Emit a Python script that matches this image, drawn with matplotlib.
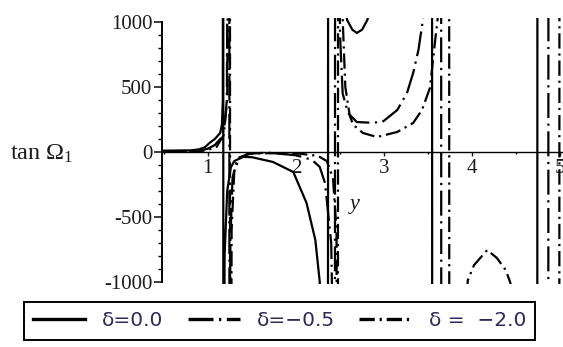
import matplotlib
matplotlib.use("Agg")
import matplotlib.pyplot as plt
from matplotlib.ticker import MultipleLocator, FixedLocator

plt.rcParams['font.family'] = ['Liberation Serif', 'DejaVu Serif']
plt.rcParams['mathtext.fontset'] = 'custom'
plt.rcParams['mathtext.rm'] = 'Liberation Serif'
plt.rcParams['mathtext.it'] = 'Liberation Serif:italic'
plt.rcParams['lines.scale_dashes'] = False

# values; +-5000 stands for "off the chart" near a pole
y_d0 = [0.48, 0.8, 0.9, 0.97, 1.02, 1.08, 1.14, 1.16, 1.17, 1.175,
        1.176, 1.19, 1.22, 1.26, 1.3, 1.4, 1.5, 1.74, 1.97, 2.12, 2.22, 2.27, 2.33, 2.362,
        2.366, 2.5, 2.58, 2.64, 2.69, 2.75, 2.81, 3.0, 3.4, 3.543,
        3.547, 4.2, 4.737,
        4.741, 5.03]
t_d0 = [10, 12, 20, 38, 70, 100, 146, 210, 400, 5000,
        -5000, -800, -300, -120, -70, -38, -40, -77, -154, -392, -677, -1000, -3000, -5000,
        5000, 1500, 1015, 940, 915, 940, 1015, 1500, 3000, 5000,
        -5000, -3000, -5000,
        5000, 3000]

y_d05 = [0.48, 0.9, 1.0, 1.08, 1.16, 1.19, 1.216, 1.243,
         1.246, 1.255, 1.28, 1.33, 1.45, 1.67, 2.0, 2.18, 2.27, 2.33, 2.4, 2.42, 2.441,
         2.445, 2.5, 2.53, 2.59, 2.69, 2.85, 2.98, 3.15, 3.26, 3.33, 3.39, 3.44, 3.55, 3.646,
         3.65, 4.3, 4.862,
         4.866, 5.03]
t_d05 = [5, 10, 25, 54, 115, 208, 400, 5000,
         -5000, -700, -200, -60, -15, -5, -25, -60, -115, -240, -700, -1500, -5000,
         5000, 900, 450, 300, 230, 225, 230, 323, 454, 608, 785, 1015, 2000, 5000,
         -5000, -3000, -5000,
         5000, 3000]

y_d2 = [0.48, 0.9, 1.0, 1.1, 1.18, 1.22, 1.25,
        1.254, 1.27, 1.3, 1.36, 1.5, 2.0, 2.25, 2.35, 2.42, 2.46, 2.475,
        2.479, 2.52, 2.56, 2.61, 2.65, 2.76, 2.92, 3.15, 3.33, 3.43, 3.52, 3.57, 3.62, 3.737,
        3.741, 3.9, 3.95, 4.02, 4.17, 4.28, 4.38, 4.43, 4.6, 4.987,
        4.991, 5.03]
t_d2 = [3, 5, 15, 40, 130, 400, 5000,
        -5000, -600, -150, -40, -10, -10, -30, -70, -200, -600, -5000,
        5000, 1200, 500, 280, 208, 146, 115, 154, 223, 323, 492, 800, 1100, 5000,
        -5000, -1500, -985, -870, -754, -815, -908, -1000, -1500, -5000,
        5000, 4000]

labels = [u'\u03b4=0.0', u'\u03b4=\u22120.5', u'\u03b4 =  \u22122.0']
yticks = [-1000, -500, 0, 500, 1000]
ytick_labels = ['-1000', '-500', '0', '500', '1000']
xticks = [1, 2, 3, 4, 5]

fig = plt.figure(figsize=(5.63, 3.47), dpi=100)
ax = fig.add_axes([162 / 563, 1 - 284 / 347, 401 / 563, 266 / 347])

lw = 1.6
l1, = ax.plot(y_d0, t_d0, color='black', lw=lw)
l2, = ax.plot(y_d05, t_d05, color='black', lw=lw, dashes=(18, 4, 1.6, 4))
l3, = ax.plot(y_d2, t_d2, color='black', lw=lw, dashes=(11, 3.5, 1.6, 3.5))

ax.set_xlim(0.48, 5.03)
ax.set_ylim(-1015, 1030)

for s in ['top', 'right']:
    ax.spines[s].set_visible(False)
ax.spines['left'].set_bounds(-1000, 1000)
ax.spines['left'].set_linewidth(1.4)
ax.spines['bottom'].set_position(('data', 0))
ax.spines['bottom'].set_linewidth(1.0)

ax.yaxis.set_major_locator(FixedLocator(yticks))
ax.set_yticklabels(ytick_labels)
ax.yaxis.set_minor_locator(MultipleLocator(100))
ax.xaxis.set_major_locator(FixedLocator(xticks))
ax.xaxis.set_minor_locator(MultipleLocator(0.5))
ax.tick_params(axis='y', which='major', length=6, width=1.2, labelsize=15, pad=1,
               colors='#1c1c1c')
ax.tick_params(axis='y', which='minor', length=3, width=1.0)
ax.tick_params(axis='x', which='major', length=3, width=1.0, labelsize=15, pad=2,
               colors='#1c1c1c')
ax.tick_params(axis='x', which='minor', length=1.5, width=1.0)

ax.text(0.481, 0.297, 'y', transform=ax.transAxes, fontsize=16, style='italic',
        ha='center', va='center', color='#1c1c1c')
fig.text(0.018, 1 - 154 / 347, r'$\mathrm{tan}\ \Omega_1$', fontsize=17.5,
         ha='left', va='center', color='#1c1c1c')

leg = fig.legend([l1, l2, l3], labels, ncol=3, loc='center',
                 bbox_to_anchor=(0.4964, 1 - 321 / 347),
                 prop={'family': ['DejaVu Sans'], 'size': 14.5},
                 handlelength=2.6, handletextpad=0.85, columnspacing=1.2,
                 borderpad=0.45, fancybox=False, framealpha=1, edgecolor='black',
                 borderaxespad=0)
leg.get_frame().set_linewidth(1.4)
for line in leg.get_lines():
    line.set_linewidth(2.4)
for t in leg.get_texts():
    t.set_color('#2c2a58')

fig.savefig('out.png', dpi=100)
